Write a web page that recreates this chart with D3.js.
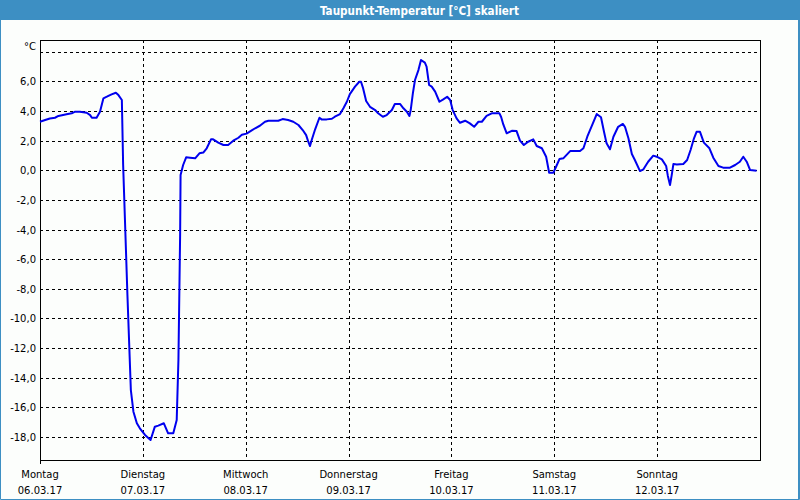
<!DOCTYPE html>
<html>
<head>
<meta charset="utf-8">
<script src="https://cdn.jsdelivr.net/npm/d3@7"></script>
<style>
  html, body { margin: 0; padding: 0; background: #fcfefc; }
  svg { display: block; }
</style>
</head>
<body>
<svg id="chart" width="800" height="500"></svg>
<script>
// ---------------- data ----------------
const titleText = "Taupunkt-Temperatur [°C] skaliert";
const unitLabel = "°C";
const dayNames = ["Montag", "Dienstag", "Mittwoch", "Donnerstag", "Freitag", "Samstag", "Sonntag"];
const dayDates = ["06.03.17", "07.03.17", "08.03.17", "09.03.17", "10.03.17", "11.03.17", "12.03.17"];
const yTickValues = [-18, -16, -14, -12, -10, -8, -6, -4, -2, 0, 2, 4, 6, 8];
const yTickLabels = ["-18,0", "-16,0", "-14,0", "-12,0", "-10,0", "-8,0", "-6,0", "-4,0", "-2,0", "0,0", "2,0", "4,0", "6,0", ""];

// hours since Monday 06.03.17 00:00
const hours = [
  0, 1.2, 2.3, 3.5, 4.3, 6.2, 7.4, 8.2, 9.3, 10.9,
  11.7, 12.1, 13.2, 14, 14.8, 15.6, 16.7, 17.7, 18.3, 19.1,
  19.4, 20.4, 21.2, 21.8, 22.6, 23.3, 24.5, 25.8, 26.8, 27.6,
  28.9, 29.9, 31.1, 31.9, 32.3, 32.7, 32.8, 33.4, 34.1, 35,
  36.2, 37.2, 38.1, 38.9, 39.9, 40.4, 41.6, 42.8, 43.9, 45.1,
  46.3, 47.1, 48.2, 49.4, 50.2, 51.3, 52.5, 53.3, 55.6, 56.6,
  57.9, 59.1, 60.3, 61.3, 62.1, 62.6, 63, 63.4, 64.2, 65.2,
  65.7, 66.9, 68.1, 68.8, 70, 70.8, 71.6, 72.3, 73.5, 74.5,
  74.9, 75.4, 76.1, 77, 78.2, 78.9, 80, 80.9, 82.1, 82.8,
  84, 84.8, 85.6, 86.2, 86.5, 87, 87.5, 88.3, 88.9, 89.8,
  90.2, 90.8, 91.4, 92.2, 93.2, 94.1, 95, 95.7, 96.3, 97.2,
  98, 99.2, 100.3, 101.3, 102.3, 103.1, 104.2, 105.4, 107.2, 107.6,
  108.1, 108.9, 110.1, 111.2, 112, 112.9, 113.9, 115.1, 115.9, 117.1,
  118.1, 118.8, 119.8, 120.6, 121.2, 122.1, 123.7, 126, 126.8, 127.7,
  129, 129.9, 130.9, 131.6, 132.2, 133, 133.8, 134.9, 136, 136.5,
  137.3, 138.1, 138.8, 140, 140.8, 141.9, 143.1, 143.9, 145.1, 146.1,
  146.5, 147, 147.4, 147.8, 148.6, 150.1, 151, 151.8, 152.6, 153.2,
  154, 154.9, 156.2, 157.1, 158.3, 159.4, 161, 162.2, 163.3, 164.1,
  164.9, 165.7, 167.2
];
// dew point temperature in °C
const dewPoint = [
  3.28, 3.4, 3.5, 3.55, 3.67, 3.78, 3.85, 3.96, 3.96, 3.89,
  3.73, 3.55, 3.55, 3.96, 4.86, 4.97, 5.13, 5.24, 5.08, 4.75,
  0.36, -8.42, -14.84, -16.3, -17.08, -17.42, -17.87, -18.21, -17.31, -17.24,
  -17.08, -17.76, -17.76, -16.86, -12.8, -4.26, -0.32, 0.36, 0.88, 0.85,
  0.81, 1.15, 1.2, 1.49, 2.09, 2.09, 1.87, 1.71, 1.71, 2.0,
  2.2, 2.4, 2.48, 2.7, 2.84, 3.01, 3.28, 3.35, 3.35, 3.46,
  3.4, 3.28, 3.06, 2.72, 2.38, 1.93, 1.64, 2.05, 2.77, 3.55,
  3.44, 3.44, 3.48, 3.62, 3.8, 4.19, 4.63, 5.15, 5.65, 5.98,
  5.98, 5.53, 4.68, 4.29, 4.07, 3.85, 3.62, 3.73, 4.07, 4.48,
  4.48, 4.19, 3.96, 3.67, 4.07, 5.2, 6.1, 6.77, 7.45, 7.27,
  7.0, 5.76, 5.65, 5.31, 4.63, 4.79, 4.97, 4.75, 4.07, 3.51,
  3.21, 3.35, 3.17, 2.94, 3.28, 3.28, 3.67, 3.85, 3.85, 3.6,
  3.1, 2.5, 2.67, 2.65, 2.0, 1.71, 1.93, 2.09, 1.64, 1.49,
  0.92, -0.16, -0.16, 0.36, 0.76, 0.81, 1.3, 1.3, 1.49, 2.27,
  3.17, 3.8, 3.58, 2.6, 1.82, 1.42, 2.27, 2.94, 3.13, 2.94,
  2.16, 1.1, 0.7, -0.05, 0.07, 0.58, 0.99, 0.92, 0.74, 0.29,
  -0.38, -0.99, -0.32, 0.43, 0.4, 0.43, 0.7, 1.37, 2.16, 2.6,
  2.6, 1.87, 1.49, 0.85, 0.29, 0.18, 0.18, 0.36, 0.58, 0.92,
  0.58, 0.02, -0.03
];

// ---------------- layout ----------------
const W = 800, H = 500;
const plot = { left: 40, top: 40, right: 760, bottom: 460 };
const FONT = "'DejaVu Sans', Verdana, sans-serif";

const svg = d3.select("#chart");

const x = d3.scaleLinear().domain([0, 24 * 7]).range([plot.left, plot.right]);
const y = d3.scaleLinear().domain([-19.56, 8.8]).range([plot.bottom, plot.top]);
const crisp = v => Math.round(v) + 0.5;

// background
svg.append("rect").attr("x", 0).attr("y", 0).attr("width", W).attr("height", H).attr("fill", "#fcfefc");

// title bar
svg.append("rect").attr("x", 0).attr("y", 0).attr("width", W).attr("height", 20).attr("fill", "#3d8fc3");
svg.append("text")
  .attr("x", 419.5).attr("y", 14.5)
  .attr("text-anchor", "middle")
  .attr("fill", "#ffffff")
  .attr("font-family", "'DejaVu Sans Condensed', 'DejaVu Sans', sans-serif")
  .attr("font-weight", "bold")
  .attr("font-size", "12px")
  .attr("textLength", 199)
  .attr("lengthAdjust", "spacingAndGlyphs")
  .text(titleText);

// window border
svg.append("path")
  .attr("d", `M0.5,20 V499.5 H799.5 V20`)
  .attr("fill", "none").attr("stroke", "#3d8fc3").attr("stroke-width", 1);
svg.append("line").attr("x1", 798.5).attr("x2", 798.5).attr("y1", 20).attr("y2", 499)
  .attr("stroke", "#3d8fc3").attr("stroke-width", 1);

// horizontal gridlines
const grid = svg.append("g").attr("shape-rendering", "crispEdges");
grid.selectAll("line.h").data(yTickValues).enter().append("line")
  .attr("class", "h")
  .attr("x1", plot.left).attr("x2", plot.right)
  .attr("y1", d => crisp(y(d))).attr("y2", d => crisp(y(d)))
  .attr("stroke", "#000").attr("stroke-width", 1).attr("stroke-dasharray", "3,3");

// vertical gridlines at day boundaries
const dayStarts = d3.range(1, dayNames.length).map(i => i * 24);
grid.selectAll("line.v").data(dayStarts).enter().append("line")
  .attr("class", "v")
  .attr("y1", plot.top).attr("y2", plot.bottom)
  .attr("x1", d => crisp(x(d))).attr("x2", d => crisp(x(d)))
  .attr("stroke", "#000").attr("stroke-width", 1).attr("stroke-dasharray", "3,3");

// y labels
svg.selectAll("text.ylab").data(yTickValues.map((v, i) => ({ v, t: yTickLabels[i] })).filter(d => d.t))
  .enter().append("text")
  .attr("class", "ylab")
  .attr("x", 36).attr("y", d => y(d.v) + 4)
  .attr("text-anchor", "end")
  .attr("font-family", FONT).attr("font-size", "10px").attr("fill", "#000")
  .text(d => d.t);

svg.append("text")
  .attr("x", 36).attr("y", 50)
  .attr("text-anchor", "end")
  .attr("font-family", FONT).attr("font-size", "10px").attr("fill", "#000")
  .text(unitLabel);

// x labels
const xl = svg.selectAll("g.xlab").data(dayNames).enter().append("g")
  .attr("class", "xlab")
  .attr("transform", (d, i) => `translate(${x(i * 24)},0)`);
xl.append("text").attr("y", 478).attr("text-anchor", "middle")
  .attr("font-family", FONT).attr("font-size", "10px").attr("fill", "#000")
  .text(d => d);
xl.append("text").attr("y", 494).attr("text-anchor", "middle")
  .attr("font-family", FONT).attr("font-size", "10px").attr("fill", "#000")
  .text((d, i) => dayDates[i]);

// plot frame
const fr = svg.append("g").attr("shape-rendering", "crispEdges");
fr.append("path")
  .attr("d", `M${plot.left + 0.5},${plot.bottom + 4} V${plot.top + 0.5} H${plot.right + 0.5} V${plot.bottom + 0.5} H${plot.left}`)
  .attr("fill", "none").attr("stroke", "#000").attr("stroke-width", 1);

// data line
const series = hours.map((h, i) => ({ h, v: dewPoint[i] }));
const line = d3.line().x(d => x(d.h)).y(d => y(d.v));
svg.append("path")
  .datum(series)
  .attr("d", line)
  .attr("fill", "none")
  .attr("stroke", "#0000ee")
  .attr("stroke-width", 2)
  .attr("stroke-linejoin", "round");
</script>
</body>
</html>
